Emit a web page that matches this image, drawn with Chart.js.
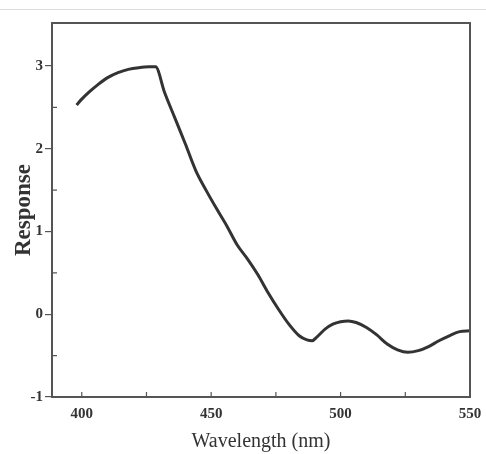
<!DOCTYPE html>
<html>
<head>
<meta charset="utf-8">
<script src="https://cdn.jsdelivr.net/npm/chart.js@4"></script>
<style>
    html, body { margin: 0; padding: 0; background: #fff; }
    #wrap { position: relative; width: 486px; height: 454px; }
    #topLine { position: absolute; left: 0; top: 9px; width: 486px; height: 1px; background: #dcdcdc; }
</style>
</head>
<body>
<div id="wrap">
    <div id="topLine"></div>
    <canvas id="lineChart" width="486" height="454"></canvas>
</div>
<script>
// values
const wavelength = [398, 400, 403, 406, 410, 414, 418, 422, 426, 428.5,
    432, 436, 440, 444, 448, 452, 456, 460, 464, 468, 472, 476, 480, 484,
    487, 489, 491, 494, 497, 500, 503, 506, 510, 514, 518, 522, 526, 530,
    534, 538, 542, 546, 550];
const response = [2.53, 2.60, 2.69, 2.77, 2.86, 2.92, 2.96, 2.98, 2.99, 2.99,
    2.68, 2.37, 2.06, 1.74, 1.50, 1.28, 1.07, 0.84, 0.67, 0.48, 0.26, 0.06, -0.12, -0.26,
    -0.31, -0.32, -0.27, -0.18, -0.12, -0.09, -0.08, -0.10, -0.16, -0.25, -0.36, -0.43, -0.46, -0.44,
    -0.39, -0.32, -0.26, -0.21, -0.20];

const xTickLabels = [400, 450, 500, 550];
const yTickLabels = [-1, 0, 1, 2, 3];
const xMinorTicks = [400, 425, 450, 475, 500, 525, 550];
const yMinorTicks = [-0.5, 0.5, 1.5, 2.5];

const serif = "'Liberation Serif', 'DejaVu Serif', serif";

// inner tick marks and the box round the plot
const framePlugin = {
    id: 'frame',
    afterDraw(chart) {
        const ctx = chart.ctx;
        const a = chart.chartArea;
        const xs = chart.scales.x;
        const ys = chart.scales.y;
        ctx.save();
        ctx.strokeStyle = '#555';
        ctx.lineWidth = 1.2;
        ctx.beginPath();
        xMinorTicks.forEach(v => {
            const px = xs.getPixelForValue(v);
            ctx.moveTo(px, a.bottom);
            ctx.lineTo(px, a.bottom - 5);
        });
        yMinorTicks.forEach(v => {
            const py = ys.getPixelForValue(v);
            ctx.moveTo(a.left, py);
            ctx.lineTo(a.left + 5, py);
        });
        ctx.stroke();
        ctx.lineWidth = 2;
        ctx.strokeRect(a.left, a.top, a.right - a.left, a.bottom - a.top);
        ctx.restore();
    }
};

const points = [];
for (let i = 0; i < wavelength.length; i++) {
    points.push({ x: wavelength[i], y: response[i] });
}

const config = {
    type: 'line',
    data: {
        datasets: [{
            data: points,
            borderColor: '#333',
            borderWidth: 3,
            pointRadius: 0,
            fill: false,
            tension: 0.4,
            cubicInterpolationMode: 'monotone'
        }]
    },
    options: {
        responsive: false,
        animation: false,
        layout: {
            padding: { top: 23, right: 16, left: 0, bottom: 0 }
        },
        plugins: {
            legend: { display: false },
            tooltip: { enabled: false }
        },
        scales: {
            x: {
                type: 'linear',
                min: 388.5,
                max: 550,
                afterBuildTicks: scale => {
                    scale.ticks = xTickLabels.map(v => ({ value: v }));
                },
                afterFit: scale => {
                    scale.height = 57;
                    scale.paddingLeft = 0;
                    scale.paddingRight = 0;
                },
                grid: { drawOnChartArea: false, drawTicks: false },
                border: { display: true, color: '#555', width: 2 },
                ticks: {
                    padding: 8,
                    color: '#333',
                    font: { family: serif, size: 15, weight: 'bold' }
                },
                title: {
                    display: true,
                    text: 'Wavelength (nm)',
                    color: '#333',
                    padding: { top: 0, bottom: 0 },
                    font: { family: serif, size: 20 }
                }
            },
            y: {
                min: -1,
                max: 3.52,
                afterBuildTicks: scale => {
                    scale.ticks = yTickLabels.map(v => ({ value: v }));
                },
                afterFit: scale => { scale.width = 52; },
                grid: { drawOnChartArea: false, drawTicks: true, tickLength: 7, color: '#555', lineWidth: 1.2 },
                border: { display: true, color: '#555', width: 2 },
                ticks: {
                    padding: 2,
                    color: '#333',
                    font: { family: serif, size: 15, weight: 'bold' }
                },
                title: {
                    display: true,
                    text: 'Response',
                    color: '#333',
                    padding: { top: 10, bottom: 0 },
                    font: { family: serif, size: 23, weight: 'bold' }
                }
            }
        }
    },
    plugins: [framePlugin]
};

const lineChart = new Chart(document.getElementById('lineChart'), config);
</script>
</body>
</html>
